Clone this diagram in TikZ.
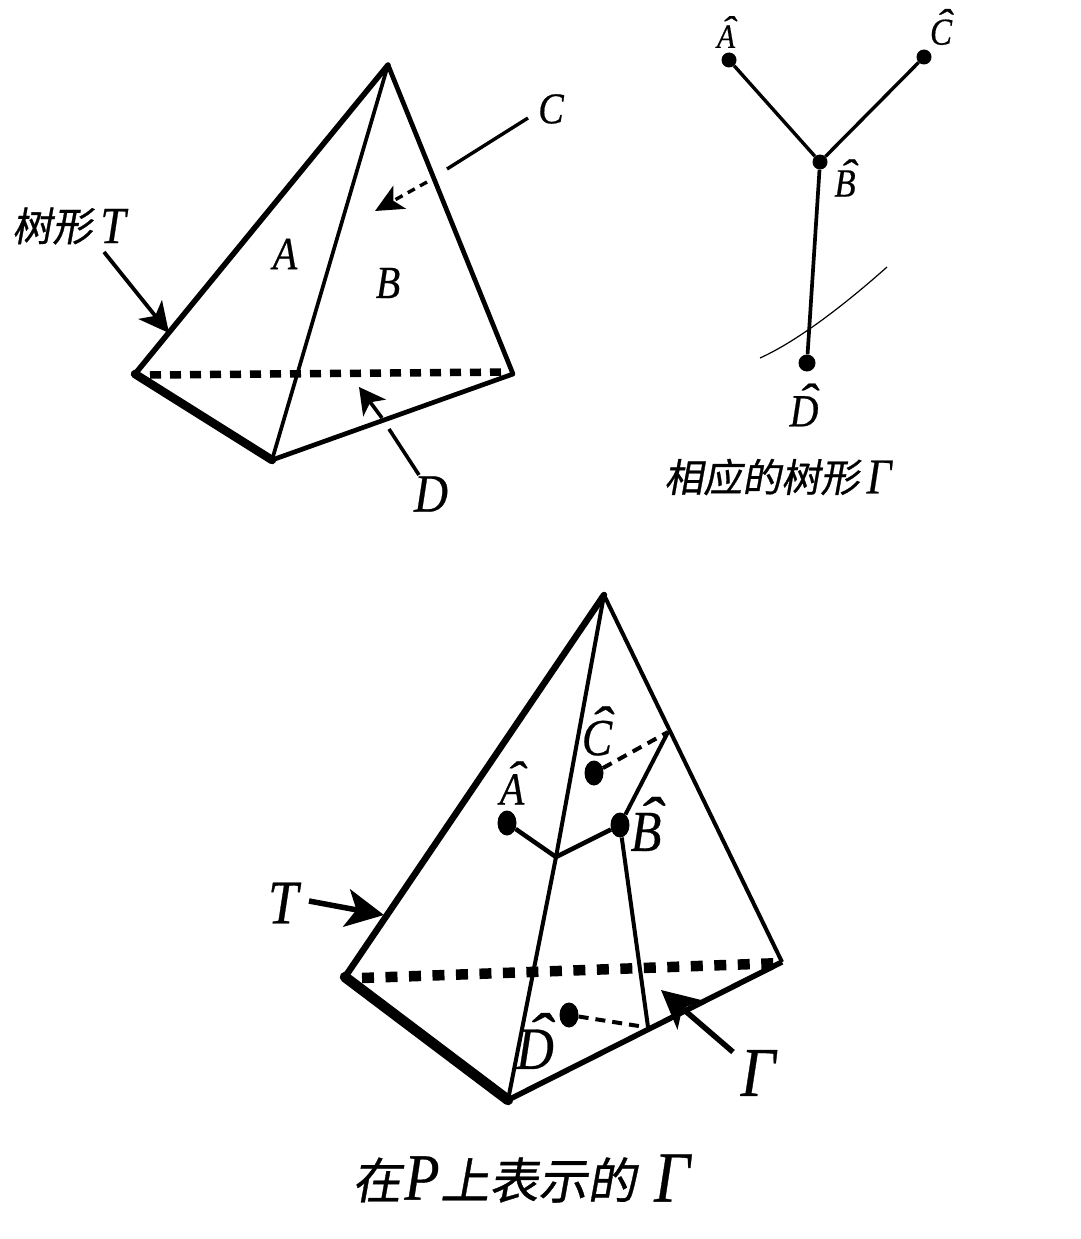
\documentclass[tikz,border=0pt]{standalone}
\usepackage{graphicx}
\usepackage{fontspec}
\usetikzlibrary{arrows.meta,shapes.geometric}
\newfontfamily\cjkslant[FakeSlant=0.18,FakeBold=0.7]{Noto Sans CJK SC}
\newfontfamily\latit[FakeBold=0.5]{Liberation Serif Italic}
\newcommand{\Gam}{Γ}
\newcommand{\hatl}[1]{\leavevmode\vbox{\offinterlineskip\ialign{\hfil##\hfil\cr\kern.14em\scalebox{1.5}[1]{\char"02C6}\cr\noalign{\kern-.42em}#1\cr}}}
\tikzset{
 edgeA/.style={line width=5.5pt,line cap=round,line join=round},
 edgeB/.style={line width=3.7pt,line cap=round},
 edgeC/.style={line width=8.5pt,line cap=round},
 baseD/.style={line width=7.5pt,dash pattern=on 11pt off 9pt},
 baseE/.style={line width=10.5pt,dash pattern=on 12pt off 11.5pt},
 arrowline/.style={line width=3.8pt,-{Stealth[length=30pt,width=30pt,inset=8pt]}},
 arrowbig/.style={line width=5.5pt,-{Stealth[length=38pt,width=38pt,inset=10pt]}},
 dashline/.style={line width=4pt,dash pattern=on 10pt off 7pt},
 tdot/.style={circle,fill=black,inner sep=0pt,minimum size=15pt},
 edot/.style={ellipse,fill=black,inner sep=0pt,minimum width=19pt,minimum height=25pt},
 lab/.style={inner sep=0pt,font=\latit\fontsize{#1}{#1}\selectfont,xscale=.87,transform shape},
 cjkS/.style={inner sep=0pt,font=\cjkslant\fontsize{40}{40}\selectfont,anchor=west},
 cjkM/.style={inner sep=0pt,font=\cjkslant\fontsize{39}{39}\selectfont,anchor=west},
 cjkL/.style={inner sep=0pt,font=\cjkslant\fontsize{49}{49}\selectfont,anchor=west},
}
\begin{document}
\begin{tikzpicture}[x=1pt,y=-1pt]
\useasboundingbox (0,0) rectangle (1080,1239);
% upper pyramid
\coordinate (ta) at (388,65);
\coordinate (tl) at (135,374);
\coordinate (tb) at (272,460);
\coordinate (tr) at (513,374);
\coordinate (tdl) at (150,375);
\coordinate (tdr) at (510,372);
\draw[baseD] (tdl) -- (tdr);
\draw[edgeA] (tl) -- (ta);
\draw[edgeB] (ta) -- (tb);
\draw[edgeA,line width=4.7pt] (ta) -- (tr) -- (tb);
\draw[edgeC] (tl) -- (tb);
\node[lab=46] (lA) at (285,254) {A};
\node[lab=46] (lB) at (388,283) {B};
\node[lab=44] (lC) at (551,109) {C};
\node[lab=54] (lD) at (431,494) {D};
\node[cjkS] (lT0) at (12,226) {树形};
\node[lab=52] (lT) at (113,226) {T};
\coordinate (aT0) at (104,252);
\coordinate (aT1) at (169,333);
\draw[arrowline] (aT0) -- (aT1);
\coordinate (aC0) at (528,118);
\coordinate (aC1) at (447,169);
\coordinate (aC2) at (427,182);
\coordinate (aC3) at (375,211);
\draw[line width=3.4pt] (aC0) -- (aC1);
\draw[line width=3.4pt,dash pattern=on 8pt off 6pt,-{Stealth[length=28pt,width=26pt,inset=7pt]}] (aC2) -- (aC3);
\coordinate (aD0) at (419,475);
\coordinate (aD1) at (389,429);
\coordinate (aD2) at (382,418);
\coordinate (aD3) at (359,387);
\draw[line width=3.6pt] (aD0) -- (aD1);
\draw[line width=3.6pt,-{Stealth[length=26pt,width=28pt,inset=7pt]}] (aD2) -- (aD3);
% tree
\node[tdot] (hA) at (729,60) {};
\node[tdot] (hC) at (924,57) {};
\node[tdot] (hB) at (820,162) {};
\node[tdot,minimum size=17pt] (hD) at (807,363) {};
\draw[line width=3.4pt] (hA) -- (hB);
\draw[line width=3.4pt] (hC) -- (hB);
\draw[line width=3.7pt] (hB) -- (hD);
\coordinate (cv0) at (760,358);
\coordinate (cv1) at (887,267);
\draw[line width=1.2pt] (cv0) .. controls (800,340) and (850,300) .. (cv1);
\node[lab=34] (tA) at (726,32) {\hatl{A}};
\node[lab=38] (tC) at (941,27) {\hatl{C}};
\node[lab=40] (tB) at (845,178) {\hatl{B}};
\node[lab=46] (tD) at (804,405) {\hatl{D}};
\node[cjkM] (cap1) at (664,477) {相应的树形};
\node[lab=50] (cap1g) at (879,477) {\Gam};
% lower pyramid
\coordinate (ba) at (604,595);
\coordinate (bl) at (345,977);
\coordinate (bb) at (508,1100);
\coordinate (br) at (782,962);
\coordinate (bdl) at (362,978);
\coordinate (bdr) at (782,963);
\coordinate (bj) at (556,857);
\coordinate (bc) at (668,732);
\coordinate (bg) at (648,1027);
\coordinate (bgd) at (645,1027);
\draw[baseE] (bdl) -- (bdr);
\draw[line width=6.5pt,line cap=round] (bl) -- (ba);
\draw[line width=4pt] (ba) -- (bj) -- (bb);
\draw[line width=4pt] (ba) -- (br);
\draw[line width=5.5pt] (br) -- (bb);
\draw[line width=10.5pt,line cap=round] (bl) -- (bb);
\node[edot] (gA) at (507,823) {};
\node[edot] (gB) at (620,825) {};
\node[edot] (gC) at (594,773) {};
\node[edot] (gD) at (569,1015) {};
\draw[line width=4.5pt] (gA) -- (bj) -- (gB);
\draw[line width=4pt] (gB) -- (bc);
\draw[line width=4pt] (gB) -- (bg);
\draw[dashline] (gC) -- (bc);
\draw[dashline] (gD) -- (bgd);
\node[lab=46] (kA) at (512,783) {\hatl{A}};
\node[lab=52] (kC) at (597,731) {\hatl{C}};
\node[lab=58] (kB) at (646,824) {\hatl{B}};
\node[lab=60] (kD) at (535,1041) {\hatl{D}};
\node[lab=62] (kT) at (283,903) {T};
\node[lab=70] (kG) at (758,1073) {\Gam};
\coordinate (gT0) at (309,901);
\coordinate (gT1) at (384,915);
\coordinate (gG0) at (733,1052);
\coordinate (gG1) at (661,990);
\draw[arrowbig] (gT0) -- (gT1);
\draw[arrowbig] (gG0) -- (gG1);
\node[cjkL] (cap2) at (352,1180) {在};
\node[lab=66] (cap2p) at (422,1178) {P};
\node[cjkL] (cap2b) at (440,1180) {上表示的};
\node[lab=72] (cap2g) at (672,1178) {\Gam};
\end{tikzpicture}
\end{document}
